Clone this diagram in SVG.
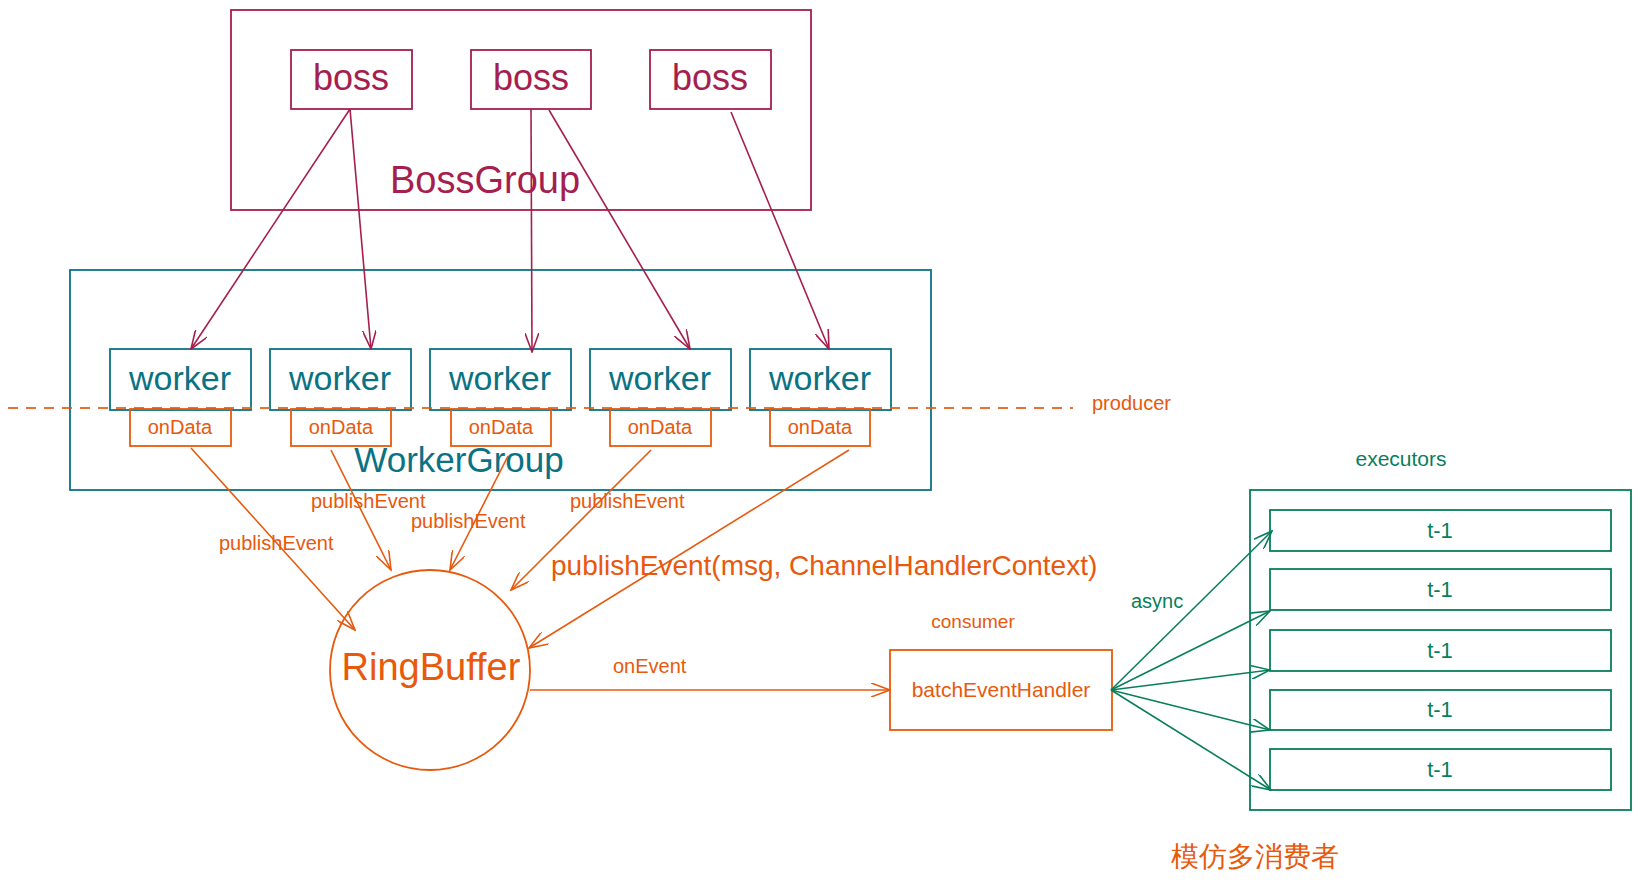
<svg xmlns="http://www.w3.org/2000/svg" width="1640" height="886" viewBox="0 0 1640 886">
<style>
.t{font-family:"Liberation Sans",Arial,sans-serif;}
.crim{fill:#a61e4d}
.teal{fill:#0b7285}
.org{fill:#e8590c}
.grn{fill:#087f5b}
.bbox{fill:none;stroke:#a61e4d;stroke-width:1.8}
.wbox{fill:none;stroke:#0b7285;stroke-width:1.8}
.obox{fill:none;stroke:#e8590c;stroke-width:1.8}
.gbox{fill:none;stroke:#087f5b;stroke-width:1.8}
.ac{fill:none;stroke:#a61e4d;stroke-width:1.6;marker-end:url(#mc)}
.ao{fill:none;stroke:#e8590c;stroke-width:1.6;marker-end:url(#mo)}
.ag{fill:none;stroke:#087f5b;stroke-width:1.6;marker-end:url(#mg)}
</style>
<defs>
<marker id="mc" markerUnits="userSpaceOnUse" viewBox="0 0 20 14" refX="19" refY="7" markerWidth="20" markerHeight="14" orient="auto"><path d="M0,0 L19,7 L0,14" fill="none" stroke="#a61e4d" stroke-width="1.6"/></marker>
<marker id="mo" markerUnits="userSpaceOnUse" viewBox="0 0 20 14" refX="19" refY="7" markerWidth="20" markerHeight="14" orient="auto"><path d="M0,0 L19,7 L0,14" fill="none" stroke="#e8590c" stroke-width="1.6"/></marker>
<marker id="mg" markerUnits="userSpaceOnUse" viewBox="0 0 20 14" refX="19" refY="7" markerWidth="20" markerHeight="14" orient="auto"><path d="M0,0 L19,7 L0,14" fill="none" stroke="#087f5b" stroke-width="1.6"/></marker>
</defs>
<rect width="1640" height="886" fill="#ffffff"/>

<g id="boss-group">
<rect class="bbox" x="231" y="10" width="580" height="200"/>
<text class="t crim" x="485" y="193" font-size="38" text-anchor="middle">BossGroup</text>
</g>
<g id="boss-1"><rect class="bbox" x="291" y="50" width="121" height="59"/><text class="t crim" x="351" y="90" font-size="36" text-anchor="middle">boss</text></g>
<g id="boss-2"><rect class="bbox" x="471" y="50" width="120" height="59"/><text class="t crim" x="531" y="90" font-size="36" text-anchor="middle">boss</text></g>
<g id="boss-3"><rect class="bbox" x="650" y="50" width="121" height="59"/><text class="t crim" x="710" y="90" font-size="36" text-anchor="middle">boss</text></g>

<g id="worker-group">
<rect class="wbox" x="70" y="270" width="861" height="220"/>
<text class="t teal" x="459" y="472" font-size="35" text-anchor="middle">WorkerGroup</text>
</g>
<g id="worker-1"><rect class="wbox" x="110" y="349" width="141" height="61"/><text class="t teal" x="180" y="390" font-size="34" text-anchor="middle">worker</text></g>
<g id="worker-2"><rect class="wbox" x="270" y="349" width="141" height="61"/><text class="t teal" x="340" y="390" font-size="34" text-anchor="middle">worker</text></g>
<g id="worker-3"><rect class="wbox" x="430" y="349" width="141" height="61"/><text class="t teal" x="500" y="390" font-size="34" text-anchor="middle">worker</text></g>
<g id="worker-4"><rect class="wbox" x="590" y="349" width="141" height="61"/><text class="t teal" x="660" y="390" font-size="34" text-anchor="middle">worker</text></g>
<g id="worker-5"><rect class="wbox" x="750" y="349" width="141" height="61"/><text class="t teal" x="820" y="390" font-size="34" text-anchor="middle">worker</text></g>

<g id="producer-line">
<line x1="8" y1="408" x2="1073" y2="408" stroke="#e8590c" stroke-width="1.8" stroke-dasharray="10 8" opacity="0.85"/>
<text class="t org" x="1092" y="410" font-size="20">producer</text>
</g>

<g id="ondata-1"><rect class="obox" x="130" y="409" width="101" height="37"/><text class="t org" x="180" y="434" font-size="20" text-anchor="middle">onData</text></g>
<g id="ondata-2"><rect class="obox" x="291" y="409" width="100" height="37"/><text class="t org" x="341" y="434" font-size="20" text-anchor="middle">onData</text></g>
<g id="ondata-3"><rect class="obox" x="451" y="409" width="100" height="37"/><text class="t org" x="501" y="434" font-size="20" text-anchor="middle">onData</text></g>
<g id="ondata-4"><rect class="obox" x="610" y="409" width="101" height="37"/><text class="t org" x="660" y="434" font-size="20" text-anchor="middle">onData</text></g>
<g id="ondata-5"><rect class="obox" x="770" y="409" width="100" height="37"/><text class="t org" x="820" y="434" font-size="20" text-anchor="middle">onData</text></g>

<g id="ringbuffer">
<ellipse cx="430" cy="670" rx="100" ry="100" fill="none" stroke="#e8590c" stroke-width="1.8"/>
<text class="t org" x="431" y="680" font-size="38" text-anchor="middle">RingBuffer</text>
</g>

<g id="batch-event-handler">
<text class="t org" x="973" y="628" font-size="19" text-anchor="middle">consumer</text>
<rect class="obox" x="890" y="650" width="222" height="80"/>
<text class="t org" x="1001" y="697" font-size="21" text-anchor="middle">batchEventHandler</text>
</g>

<g id="executors">
<text class="t grn" x="1401" y="466" font-size="21" text-anchor="middle">executors</text>
<rect class="gbox" x="1250" y="490" width="381" height="320"/>
</g>
<g id="t1-1"><rect class="gbox" x="1270" y="510" width="341" height="41"/><text class="t grn" x="1440" y="538" font-size="22" text-anchor="middle">t-1</text></g>
<g id="t1-2"><rect class="gbox" x="1270" y="569" width="341" height="41"/><text class="t grn" x="1440" y="597" font-size="22" text-anchor="middle">t-1</text></g>
<g id="t1-3"><rect class="gbox" x="1270" y="630" width="341" height="41"/><text class="t grn" x="1440" y="658" font-size="22" text-anchor="middle">t-1</text></g>
<g id="t1-4"><rect class="gbox" x="1270" y="690" width="341" height="40"/><text class="t grn" x="1440" y="717" font-size="22" text-anchor="middle">t-1</text></g>
<g id="t1-5"><rect class="gbox" x="1270" y="749" width="341" height="41"/><text class="t grn" x="1440" y="777" font-size="22" text-anchor="middle">t-1</text></g>

<g id="connectors">
<path class="ac" d="M350,109 L191,349"/>
<path class="ac" d="M350,109 L371,349"/>
<path class="ac" d="M531,109 L532,352"/>
<path class="ac" d="M549,110 L690,349"/>
<path class="ac" d="M731,112 L829,349"/>

<path class="ao" d="M191,448 L355,630"/>
<path class="ao" d="M331,450 L391,570"/>
<path class="ao" d="M508,456 L450,570"/>
<path class="ao" d="M651,450 L511,590"/>
<path class="ao" d="M849,450 L529,648"/>
<path class="ao" d="M530,690 L890,690"/>

<path class="ag" d="M1111,690 L1272,531"/>
<path class="ag" d="M1111,690 L1270,611"/>
<path class="ag" d="M1111,690 L1270,670"/>
<path class="ag" d="M1111,690 L1270,730"/>
<path class="ag" d="M1111,690 L1271,790"/>

<text class="t org" x="219" y="550" font-size="20">publishEvent</text>
<text class="t org" x="311" y="508" font-size="20">publishEvent</text>
<text class="t org" x="411" y="528" font-size="20">publishEvent</text>
<text class="t org" x="570" y="508" font-size="20">publishEvent</text>
<text class="t org" x="551" y="575" font-size="28">publishEvent(msg, ChannelHandlerContext)</text>
<text class="t org" x="613" y="673" font-size="20">onEvent</text>
<text class="t grn" x="1131" y="608" font-size="20">async</text>
</g>

<text class="t org" x="1255" y="866" font-size="28" text-anchor="middle" font-family="'Liberation Sans','Noto Sans CJK SC',sans-serif">模仿多消费者</text>
</svg>
